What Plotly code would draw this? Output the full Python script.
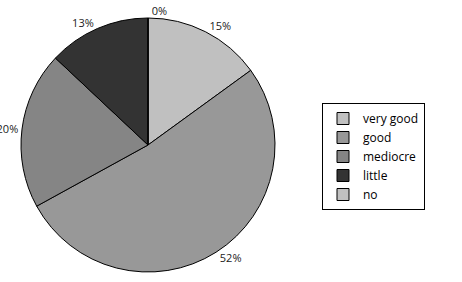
import plotly.graph_objects as go

categories = ["very good", "good", "mediocre", "little", "no"]
values = [15, 52, 20, 13, 0]
colors = ["#c0c0c0", "#989898", "#858585", "#333333", "#c0c0c0"]

fig = go.Figure(go.Pie(
    labels=categories,
    values=values,
    sort=False,
    direction="clockwise",
    rotation=0,
    automargin=False,
    marker=dict(colors=colors, line=dict(color="#000000", width=1)),
    textinfo="percent",
    texttemplate="%{percent:.0%}",
    textposition="outside",
    textfont=dict(family="Open Sans", size=11, color="#222222"),
    domain=dict(x=[21/462, 275/462], y=[1-273/282, 1-17/282]),
    showlegend=True,
))

fig.update_layout(
    width=462, height=282,
    margin=dict(l=0, r=0, t=0, b=0, autoexpand=False),
    paper_bgcolor="white",
    plot_bgcolor="white",
    legend=dict(
        x=322/462, y=1-103/282, xanchor="left", yanchor="top",
        bordercolor="#000000", borderwidth=1,
        font=dict(family="Open Sans", size=12, color="#000000"),
        itemwidth=30, tracegroupgap=0,
    ),
)

fig.write_html("out.html")
